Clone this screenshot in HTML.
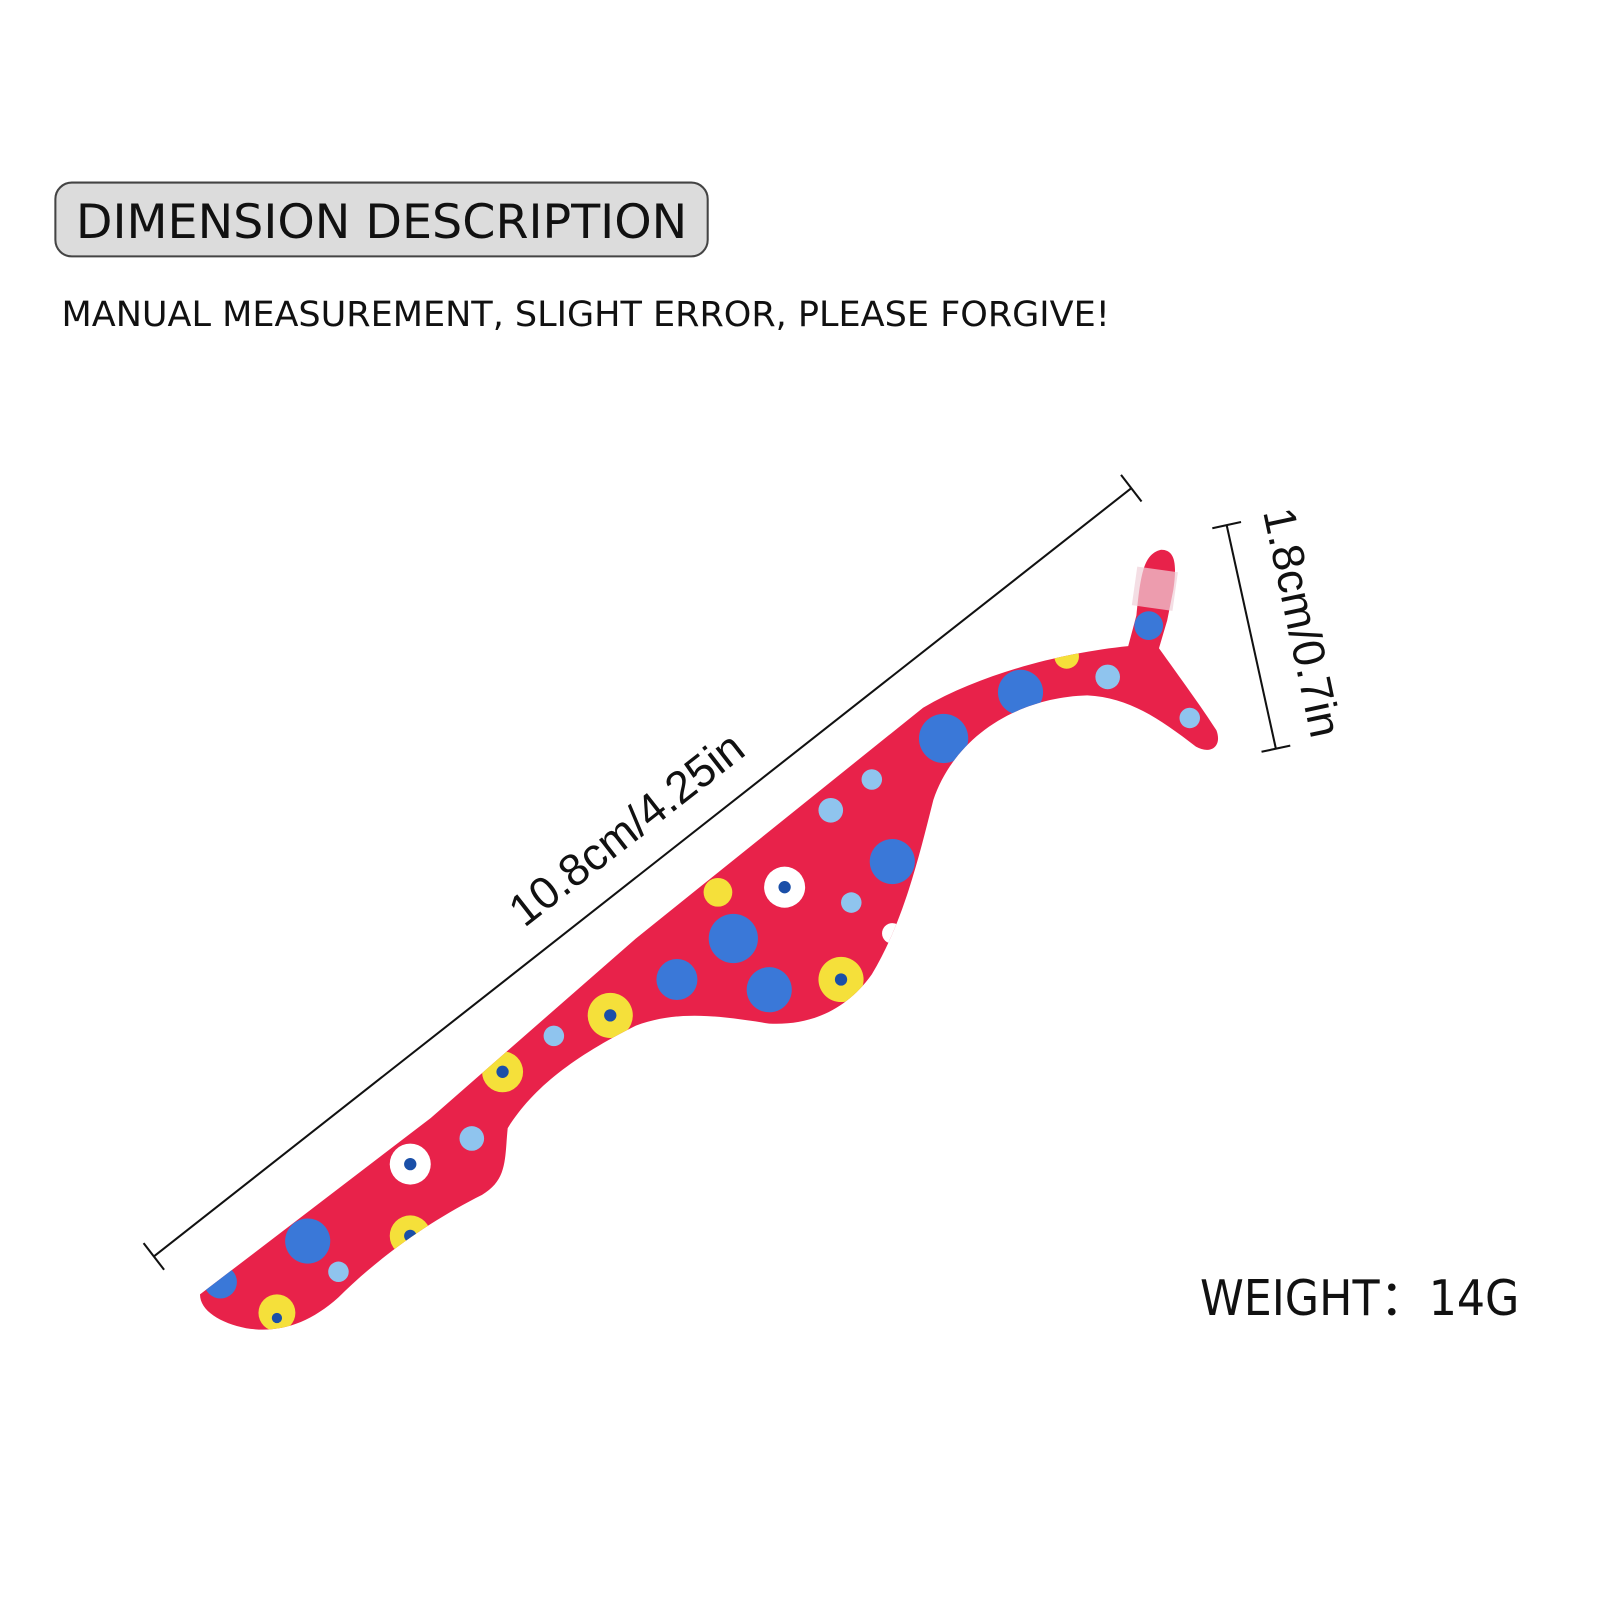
<!DOCTYPE html>
<html><head><meta charset="utf-8"><style>
html,body{margin:0;padding:0;background:#fff;width:1600px;height:1600px;overflow:hidden}
svg{display:block}
</style></head><body>
<svg width="1600" height="1600" viewBox="0 0 1560 1560" xmlns="http://www.w3.org/2000/svg">
<rect width="1560" height="1560" fill="#fff"/>
<rect x="54" y="178" width="636" height="72" rx="16" fill="#dcdcdc" stroke="#444" stroke-width="2"/>
<text x="372" y="232" text-anchor="middle" font-family="'DejaVu Sans Condensed','DejaVu Sans',sans-serif" font-size="46" fill="#111" textLength="596" lengthAdjust="spacingAndGlyphs">DIMENSION DESCRIPTION</text>
<text x="60" y="318" font-family="'DejaVu Sans Condensed','DejaVu Sans',sans-serif" font-size="34" fill="#111" textLength="1022" lengthAdjust="spacingAndGlyphs">MANUAL MEASUREMENT, SLIGHT ERROR, PLEASE FORGIVE!</text>

<!-- dimension line long -->
<line x1="150" y1="1225" x2="1103" y2="476" stroke="#111" stroke-width="2"/>
<line x1="140" y1="1212" x2="160" y2="1238" stroke="#111" stroke-width="2"/>
<line x1="1093" y1="463" x2="1113" y2="489" stroke="#111" stroke-width="2"/>
<text transform="translate(620,820) rotate(-38)" text-anchor="middle" font-family="'Liberation Sans',sans-serif" font-size="44" fill="#111">10.8cm/4.25in</text>

<!-- dimension short -->
<line x1="1196" y1="512" x2="1244" y2="730" stroke="#111" stroke-width="2"/>
<line x1="1182" y1="515" x2="1210" y2="509" stroke="#111" stroke-width="2"/>
<line x1="1230" y1="733" x2="1258" y2="727" stroke="#111" stroke-width="2"/>
<text transform="translate(1255,610) rotate(78)" text-anchor="middle" font-family="'Liberation Sans',sans-serif" font-size="44" fill="#111">1.8cm/0.7in</text>

<text x="1170" y="1282" font-family="'DejaVu Sans Condensed','DejaVu Sans',sans-serif" font-size="48" fill="#111">WEIGHT：14G</text>

<defs><clipPath id="tool"><path id="tp" d="M195,1262 L420,1090 L620,915 L900,690 C960,655 1040,636 1100,630 L1108,600 C1112,560 1115,540 1132,536 C1145,536 1148,548 1144,575 L1138,605 L1130,632 C1150,660 1172,690 1186,712 C1192,728 1180,736 1166,728 C1130,700 1100,680 1060,678 C990,680 930,720 910,780 C895,840 880,900 850,950 C825,985 790,1000 750,998 C700,990 660,985 620,1000 C560,1030 520,1060 495,1100 C492,1130 495,1150 470,1165 C420,1190 370,1225 330,1265 C300,1292 270,1300 240,1295 C215,1290 195,1278 195,1262 Z"/></clipPath></defs>
<use href="#tp" fill="#e8224a"/>
<g clip-path="url(#clip)">
</g>
<g clip-path="url(#tool)">
 <g fill="#3a78d8">
  <circle cx="300" cy="1210" r="22"/><circle cx="920" cy="720" r="24"/><circle cx="995" cy="675" r="22"/>
  <circle cx="870" cy="840" r="22"/><circle cx="715" cy="915" r="24"/><circle cx="660" cy="955" r="20"/>
  <circle cx="750" cy="965" r="22"/><circle cx="215" cy="1250" r="16"/><circle cx="1120" cy="610" r="14"/>
 </g>
 <g fill="#8fc4ee">
  <circle cx="330" cy="1240" r="10"/><circle cx="810" cy="790" r="12"/><circle cx="850" cy="760" r="10"/>
  <circle cx="830" cy="880" r="10"/><circle cx="460" cy="1110" r="12"/><circle cx="1080" cy="660" r="12"/>
  <circle cx="1160" cy="700" r="10"/><circle cx="540" cy="1010" r="10"/>
 </g>
 <g fill="#f5e03a">
  <circle cx="270" cy="1280" r="18"/><circle cx="400" cy="1205" r="20"/><circle cx="490" cy="1045" r="20"/>
  <circle cx="595" cy="990" r="22"/><circle cx="820" cy="955" r="22"/><circle cx="700" cy="870" r="14"/><circle cx="1040" cy="640" r="12"/>
 </g>
 <g fill="#fff">
  <circle cx="400" cy="1135" r="20"/><circle cx="765" cy="865" r="20"/><circle cx="870" cy="910" r="10"/>
 </g>
 <g fill="#1a4fa8">
  <circle cx="400" cy="1205" r="6"/><circle cx="490" cy="1045" r="6"/><circle cx="595" cy="990" r="6"/><circle cx="820" cy="955" r="6"/><circle cx="270" cy="1285" r="5"/>
  <circle cx="400" cy="1135" r="6"/><circle cx="765" cy="865" r="6"/>
 </g>
</g>
<rect x="1106" y="555" width="40" height="38" fill="#f0d0d8" opacity="0.7" transform="rotate(8 1126 574)"/>
</svg>
</body></html>
